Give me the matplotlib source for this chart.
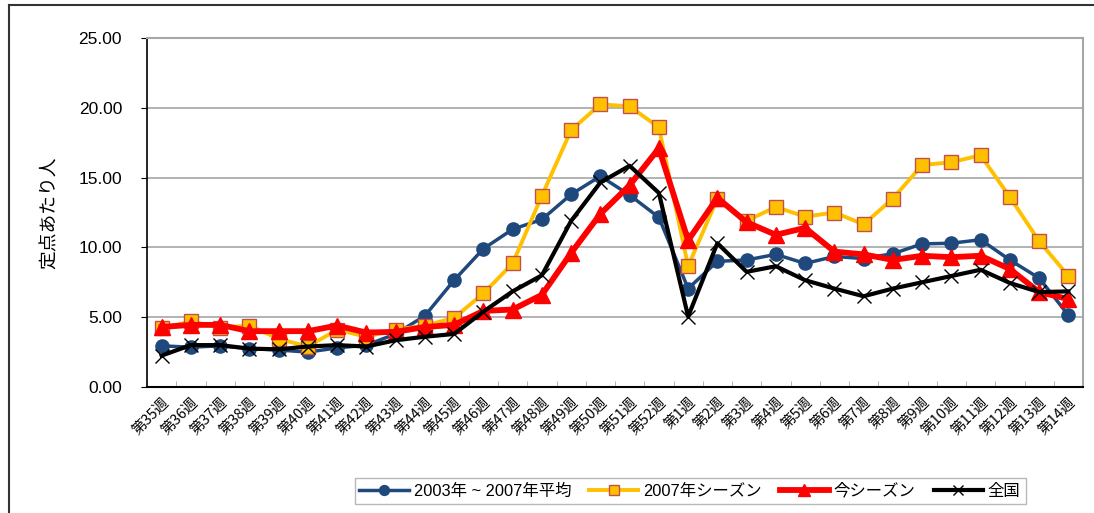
import numpy as np
import matplotlib.pyplot as plt
from matplotlib.lines import Line2D

plt.rcParams['font.family'] = ['Liberation Sans', 'Noto Sans CJK JP', 'DejaVu Sans']

# weeks: 35-52 then 1-14
weeks = [f"第{w}週" for w in list(range(35, 53)) + list(range(1, 15))]

avg_0307 = [2.95, 2.85, 2.95, 2.75, 2.65, 2.5, 2.8, 3.0, 3.8, 5.1, 7.65, 9.9,
            11.3, 12.0, 13.8, 15.1, 13.75, 12.15, 7.05, 9.0, 9.1, 9.5, 8.85, 9.35,
            9.2, 9.55, 10.25, 10.3, 10.55, 9.1, 7.8, 5.15]
season_2007 = [4.2, 4.7, 4.25, 4.4, 3.45, 2.9, 4.1, 3.6, 4.1, 4.4, 4.95, 6.7,
               8.85, 13.7, 18.4, 20.25, 20.1, 18.6, 8.65, 13.5, 11.9, 12.9, 12.2, 12.5,
               11.65, 13.5, 15.9, 16.1, 16.6, 13.6, 10.45, 7.95]
this_season = [4.3, 4.45, 4.45, 4.0, 4.0, 4.0, 4.4, 3.9, 3.95, 4.3, 4.45, 5.45,
               5.55, 6.6, 9.6, 12.4, 14.45, 17.1, 10.5, 13.55, 11.8, 10.9, 11.4, 9.7,
               9.5, 9.1, 9.4, 9.3, 9.4, 8.45, 6.8, 6.3]
national = [2.25, 3.0, 3.0, 2.75, 2.7, 2.9, 3.0, 2.9, 3.35, 3.6, 3.8, 5.4,
            6.85, 8.0, 11.9, 14.65, 15.85, 13.9, 5.05, 10.3, 8.25, 8.65, 7.65, 7.05,
            6.5, 7.05, 7.5, 7.95, 8.4, 7.45, 6.8, 6.85]

labels = ["2003年 ~ 2007年平均", "2007年シーズン", "今シーズン", "全国"]

fig = plt.figure(figsize=(10.94, 5.13), dpi=100)
ax = fig.add_axes([147 / 1094, 1 - 387 / 513, (1083 - 147) / 1094, (387 - 38) / 513])

x = np.arange(len(weeks))
ax.plot(x, avg_0307, color='#1F497D', lw=2.5, marker='o', ms=9.5,
        mfc='#1F497D', mec='#1F497D', label=labels[0], zorder=3)
ax.plot(x, season_2007, color='#FFC000', lw=2.8, marker='s', ms=10,
        mfc='#FFC000', mec='#C0504D', mew=1.0, label=labels[1], zorder=4)
ax.plot(x, this_season, color='#FF0000', lw=4.2, marker='^', ms=12,
        mfc='#FF0000', mec='#FF0000', label=labels[2], zorder=5)
ax.plot(x, national, color='black', lw=3.0, marker='x', ms=10, mew=1.0,
        label=labels[3], zorder=6)

ax.set_xlim(-0.5, len(weeks) - 0.5)
ax.set_ylim(0, 25)
ax.set_yticks(np.arange(0, 26, 5))
ax.set_yticklabels([f"{v:.2f}" for v in np.arange(0, 26, 5)], fontsize=12.5)
ax.yaxis.grid(True, color='#A6A6A6', lw=1.2)
ax.set_axisbelow(True)

ax.set_xticks(x)
ax.set_xticklabels(weeks, rotation=45, ha='right', rotation_mode='anchor',
                   fontsize=10.5, family=['Noto Sans CJK JP'])
ax.tick_params(axis='x', which='major', length=0, pad=6)
ax.set_xticks(np.arange(-0.5, len(weeks), 1), minor=True)
ax.tick_params(axis='x', which='minor', direction='in', length=4, color='#A6A6A6')
ax.tick_params(axis='y', direction='out', length=4, color='black', pad=14)

for s in ['top', 'right']:
    ax.spines[s].set_color('#A6A6A6')
    ax.spines[s].set_linewidth(1.5)
ax.spines['left'].set_color('black')
ax.spines['bottom'].set_color('black')
ax.spines['left'].set_linewidth(1.2)
ax.spines['bottom'].set_linewidth(1.5)

fig.text(49 / 1094, 1 - 213 / 513, "定点あたり人", rotation=90, ha='center', va='center',
         fontsize=13.5, family=['Noto Sans CJK JP'])

# outer chart frame
fig.add_artist(Line2D([9 / 1094, 9 / 1094], [0, 1 - 5 / 513], transform=fig.transFigure,
                      color='#333333', lw=1.5))
fig.add_artist(Line2D([9 / 1094, 1], [1 - 5 / 513, 1 - 5 / 513], transform=fig.transFigure,
                      color='#333333', lw=1.5))

handles, _ = ax.get_legend_handles_labels()
leg = fig.legend(handles, labels, loc='center', bbox_to_anchor=(690 / 1094, 1 - 491 / 513),
                 ncol=4, fontsize=11.8, frameon=True, fancybox=False, edgecolor='#A6A6A6',
                 handlelength=3.0, columnspacing=1.1, handletextpad=0.3, borderpad=0.3,
                 markerscale=0.75)
leg.get_frame().set_linewidth(1.0)

fig.savefig('out.png', dpi=100)
